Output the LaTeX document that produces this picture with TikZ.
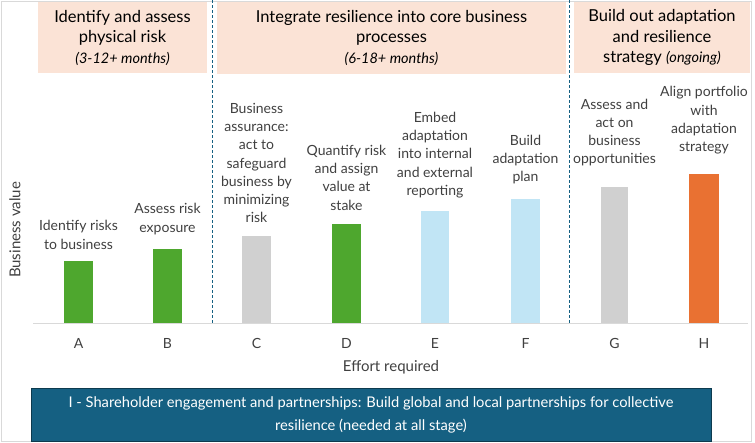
\documentclass[tikz,border=0pt]{standalone}
\usepackage{fontspec}
\setmainfont{Lato}
\definecolor{peach}{HTML}{FBE3D6}
\definecolor{bgreen}{HTML}{4EA72E}
\definecolor{bgrey}{HTML}{D0D0D0}
\definecolor{bblue}{HTML}{C1E5F5}
\definecolor{borange}{HTML}{E97132}
\definecolor{teal}{HTML}{156082}
\definecolor{txt}{HTML}{404040}
\definecolor{axisc}{HTML}{D9D9D9}
\begin{document}
\begin{tikzpicture}[x=1pt,y=-1pt,
  hdr/.style={fill=peach,draw=none},
  hdrtext/.style={align=center,text=black,font=\fontsize{16.5}{20.5}\selectfont,inner sep=0pt},
  barlbl/.style={align=center,text=txt,font=\fontsize{14}{18.3}\selectfont,inner sep=0pt},
  cat/.style={text=txt,font=\fontsize{14}{16}\selectfont,inner sep=0pt},
  sep/.style={draw=teal,dash pattern=on 3pt off 2pt,line width=0.8pt},
  bar/.style={draw=none}]
\useasboundingbox (0,0) rectangle (755,442);
% frame
\draw[axisc,line width=0.8pt] (1.5,1.5) rectangle (751,441);
% headers
\fill[hdr] (38,2) rectangle (207,73);
\fill[hdr] (217,2) rectangle (566,74);
\fill[hdr] (574,2) rectangle (750,73);
\node[hdrtext] (h1) at (122.5,37.5) {Identify and assess\\physical risk\\{\fontsize{14.5}{20.5}\selectfont\itshape (3-12+ months)}};
\node[hdrtext] (h2) at (391.5,37.5) {Integrate resilience into core business\\processes\\{\fontsize{14.5}{20.5}\selectfont\itshape (6-18+ months)}};
\node[hdrtext] (h3) at (662,37.5) {Build out adaptation\\and resilience\\strategy {\fontsize{14.5}{20.5}\selectfont\itshape (ongoing)}};
% separators
\draw[sep] (212,0) -- (212,323);
\draw[sep] (569,0) -- (569,323);
% axis
\draw[axisc,line width=1pt] (33,323.5) -- (748,323.5);
% bars
\fill[bgreen] (64,261) rectangle (93,323);
\fill[bgreen] (153,249) rectangle (182,323);
\fill[bgrey] (242,236) rectangle (271,323);
\fill[bgreen] (332,224) rectangle (361,323);
\fill[bblue] (421,211) rectangle (449,323);
\fill[bblue] (511,199) rectangle (540,323);
\fill[bgrey] (601,187) rectangle (628,323);
\fill[borange] (689,174) rectangle (719,323);
% bar labels
\node[barlbl] (la) at (78.5,235) {Identify risks\\to business};
\node[barlbl] (lb) at (167.5,219) {Assess risk\\exposure};
\node[barlbl] (lc) at (256.5,163) {Business\\assurance:\\act to\\safeguard\\business by\\minimizing\\risk};
\node[barlbl] (ld) at (346.5,177.5) {Quantify risk\\and assign\\value at\\stake};
\node[barlbl] (le) at (435,155) {Embed\\adaptation\\into internal\\and external\\reporting};
\node[barlbl] (lf) at (525.5,159.5) {Build\\adaptation\\plan};
\node[barlbl] (lg) at (614.5,132.5) {Assess and\\act on\\business\\opportunities};
\node[barlbl] (lh) at (704,120.5) {Align portfolio\\with\\adaptation\\strategy};
% categories
\node[cat] (ca) at (78.5,343) {A};
\node[cat] (cb) at (167.5,343) {B};
\node[cat] (cc) at (256.5,343) {C};
\node[cat] (cd) at (346.5,343) {D};
\node[cat] (ce) at (435,343) {E};
\node[cat] (cf) at (525.5,343) {F};
\node[cat] (cg) at (614.5,343) {G};
\node[cat] (ch) at (704,343) {H};
% axis titles
\node[text=txt,font=\fontsize{15}{16}\selectfont,inner sep=0pt] (xt) at (391,367) {Effort required};
\node[text=txt,font=\fontsize{15}{16}\selectfont,inner sep=0pt,rotate=90] (yt) at (15,230) {Business value};
% bottom box
\node[draw=teal!60!black,line width=1pt,fill=teal,minimum width=680pt,minimum height=53pt,inner sep=0pt] (bot) at (371,414.5) {};
\node[align=center,text=white,font=\fontsize{14.7}{23}\selectfont,inner sep=0pt] (bt) at (bot.center) {I - Shareholder engagement and partnerships: Build global and local partnerships for collective\\resilience (needed at all stage)};
\end{tikzpicture}
\end{document}
